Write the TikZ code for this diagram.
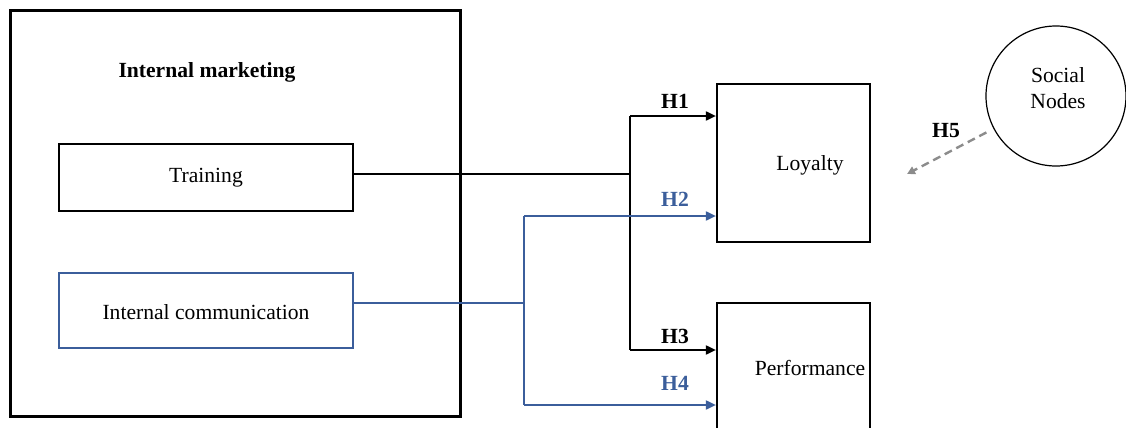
\documentclass[tikz,border=0pt]{standalone}
\usepackage{fontspec}
\setmainfont{Liberation Serif}
\usetikzlibrary{arrows.meta}
\definecolor{imblue}{HTML}{3B5E9B}
\definecolor{dashgray}{HTML}{8C8C8C}
\begin{document}
\begin{tikzpicture}[x=0.5pt,y=-0.5pt,
  every node/.style={font=\fontsize{10.8}{13}\selectfont, inner sep=0pt},
  box/.style={draw=black, rectangle},
  lbl/.style={font=\fontsize{10.8}{13}\selectfont\bfseries},
  conn/.style={line width=0.95pt},
  arr/.style={conn, -{Triangle[length=5pt,width=4.5pt]}},
  barr/.style={arr, draw=imblue},
]
\useasboundingbox (0,0) rectangle (1126,428);
% containers
\node[box, line width=1.5pt, minimum width=225pt, minimum height=203pt] (outer) at (235,213) {};
\node (imtitle) at (207,72) {\bfseries Internal marketing};
\node[box, line width=1.4pt, minimum width=147pt, minimum height=33.5pt] (train) at (206,177.5) {Training};
\node[box, draw=imblue, line width=1.1pt, minimum width=147pt, minimum height=37.5pt] (ic) at (206,310.5) {};
\node (ictxt) at (206,312) {Internal communication};
\node[box, line width=1.1pt, minimum width=76.5pt, minimum height=79pt] (loy) at (793.5,163) {};
\node (loytxt) at (810,165) {Loyalty};
\node[box, line width=1.1pt, minimum width=76.5pt, minimum height=80pt] (perf) at (793.5,383) {};
\node (perftxt) at (810,368) {Performance};
\node[draw, circle, line width=0.6pt, minimum size=70pt] (soc) at (1056,96) {};
\node[align=center] (soctxt) at (1058,88) {Social\\Nodes};
% junction coordinates
\coordinate (jt) at (630,174);
\coordinate (j1) at (630,116);
\coordinate (j3) at (630,350);
\coordinate (jb) at (524,303);
\coordinate (j2) at (524,216);
\coordinate (j4) at (524,405);
\coordinate (h5end) at (907,174);
% black connectors
\draw[conn] (train.east |- jt) -- (jt);
\draw[conn] (j1) -- (j3);
\draw[arr] (j1) -- (loy.west |- j1);
\draw[arr] (j3) -- (perf.west |- j3);
% blue connectors
\draw[conn, draw=imblue] (ic.east |- jb) -- (jb);
\draw[conn, draw=imblue] (j2) -- (j4);
\draw[barr] (j2) -- (loy.west |- j2);
\draw[barr] (j4) -- (perf.west |- j4);
% dashed
\draw[draw=dashgray, line width=1.2pt, dash pattern=on 4pt off 2.5pt, shorten <=4pt, -{Triangle[length=4pt,width=4pt]}] (soc) -- (h5end);
% labels
\node[lbl] (h1) at (675,101) {H1};
\node[lbl, text=imblue] (h2) at (675,199) {H2};
\node[lbl] (h3) at (675,336) {H3};
\node[lbl, text=imblue] (h4) at (675,383) {H4};
\node[lbl] (h5) at (946,131) {H5};
\end{tikzpicture}
\end{document}
